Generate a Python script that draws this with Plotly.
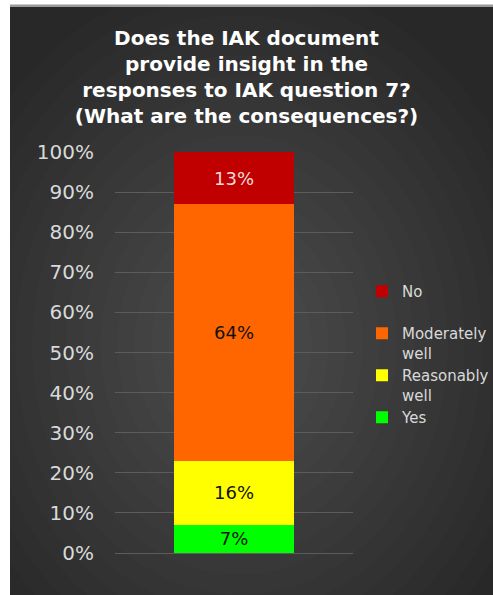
import plotly.graph_objects as go

# ---- data ----
categories = ["Yes", "Reasonably<br>well", "Moderately<br>well", "No<br> "]
values = [7, 16, 64, 13]
bar_labels = ["7%", "16%", "64%", "13%"]
colors = ["#00ff00", "#ffff00", "#ff6600", "#c00000"]
text_colors = ["#111111", "#111111", "#111111", "#f2dcdb"]
tick_vals = [0, 10, 20, 30, 40, 50, 60, 70, 80, 90, 100]
tick_text = [f"{v}%" for v in tick_vals]
title_text = ("<b>Does the IAK document<br>provide insight in the<br>"
              "responses to IAK question 7?<br>(What are the consequences?)</b>")

W, H = 493, 595
L, R, T, B = 115, 140, 152, 42
pw, ph = W - L - R, H - T - B


def px2x(px):
    return (px - L) / pw


def py2y(py):
    return (H - B - py) / ph


fig = go.Figure()
for name, v, lab, c, tc in zip(categories, values, bar_labels, colors, text_colors):
    fig.add_trace(go.Bar(
        x=["Q7"], y=[v], name=name, marker=dict(color=c, line=dict(width=0)),
        text=[lab], textposition="inside", insidetextanchor="middle",
        textfont=dict(color=tc, size=18, family="DejaVu Sans"),
        width=0.505,
    ))

shapes = []
# dark panel
shapes.append(dict(type="rect", xref="paper", yref="paper", layer="below",
                   x0=px2x(10), x1=px2x(W + 5), y0=py2y(H + 5), y1=py2y(7),
                   fillcolor="#282828", line=dict(width=0)))
# top grey edge
shapes.append(dict(type="rect", xref="paper", yref="paper", layer="below",
                   x0=px2x(10), x1=px2x(W + 5), y0=py2y(7), y1=py2y(4.5),
                   fillcolor="#9a9a9a", line=dict(width=0)))
# radial-ish gradient
cx, cy = 240, 345
n = 16
for i in range(n):
    rx = 310 - i * 17
    ry = 370 - i * 20
    shapes.append(dict(type="circle", xref="paper", yref="paper", layer="below",
                       x0=px2x(cx - rx), x1=px2x(cx + rx),
                       y0=py2y(cy + ry), y1=py2y(cy - ry),
                       fillcolor="rgba(255,255,255,0.0105)", line=dict(width=0)))

fig.update_layout(
    width=W, height=H,
    margin=dict(l=L, r=R, t=T, b=B, autoexpand=False),
    barmode="stack",
    paper_bgcolor="white",
    plot_bgcolor="rgba(0,0,0,0)",
    shapes=shapes,
    font=dict(family="DejaVu Sans", color="#d9d9d9"),
    title=dict(text=title_text, x=0.5, xref="container", xanchor="center",
               y=1 - 45 / H, yref="container", yanchor="top",
               font=dict(size=20, color="white", family="DejaVu Sans")),
    xaxis=dict(showticklabels=False, showgrid=False, zeroline=False,
               showline=False, fixedrange=True),
    yaxis=dict(range=[0, 100], tickvals=tick_vals, ticktext=tick_text,
               showgrid=True, gridcolor="#5c5c5c", gridwidth=1,
               zeroline=True, zerolinecolor="#5c5c5c", zerolinewidth=1,
               showline=False, ticks="", ticklabelstandoff=20,
               tickfont=dict(size=20, color="#d9d9d9")),
    legend=dict(x=px2x(362), xanchor="left", y=py2y(275), yanchor="top",
                traceorder="reversed", valign="top",
                bgcolor="rgba(0,0,0,0)",
                font=dict(size=15, color="#d9d9d9", family="DejaVu Sans"),
                itemwidth=30),
    showlegend=True,
)

fig.write_html("out.html",
               config={"displayModeBar": False},
               post_script="document.body.style.margin='0';")
